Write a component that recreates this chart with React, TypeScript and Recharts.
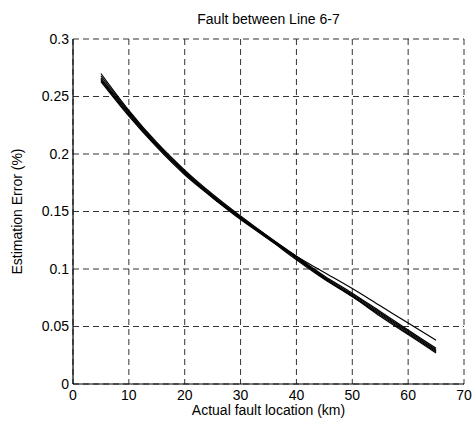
import React from "react";
import { LineChart, Line, XAxis, YAxis, CartesianGrid, Label } from "recharts";

// fault location (km)
const locations = [5, 10, 15, 20, 25, 30, 35, 40, 45, 50, 55, 60, 65];

// estimation error (%) for each run
const run1 = [0.27, 0.238, 0.21, 0.186, 0.165, 0.146, 0.128, 0.111, 0.097, 0.083, 0.068, 0.053, 0.038];
const run2 = [0.268, 0.237, 0.208, 0.185, 0.164, 0.145, 0.128, 0.111, 0.094, 0.079, 0.063, 0.047, 0.031];
const run3 = [0.266, 0.236, 0.209, 0.184, 0.163, 0.144, 0.127, 0.11, 0.093, 0.078, 0.062, 0.046, 0.03];
const run4 = [0.265, 0.235, 0.207, 0.183, 0.163, 0.145, 0.126, 0.11, 0.092, 0.077, 0.061, 0.045, 0.029];
const run5 = [0.264, 0.234, 0.207, 0.184, 0.162, 0.144, 0.127, 0.109, 0.092, 0.076, 0.06, 0.044, 0.028];
const run6 = [0.263, 0.233, 0.206, 0.182, 0.162, 0.143, 0.126, 0.108, 0.091, 0.076, 0.059, 0.043, 0.027];

const xTicks = [0, 10, 20, 30, 40, 50, 60, 70];
const yTicks = [0, 0.05, 0.1, 0.15, 0.2, 0.25, 0.3];

const runs = [run1, run2, run3, run4, run5, run6];

const data = locations.map((x, i) => {
  const row: Record<string, number> = { x };
  runs.forEach((r, k) => {
    row["r" + k] = r[i];
  });
  return row;
});

const FONT = "'Liberation Sans', Arial, Helvetica, sans-serif";
const tickStyle = { fontSize: 14, fill: "#000", fontFamily: FONT };

export default function App() {
  return (
    <div style={{ position: "absolute", left: 0, top: 0, width: 475, height: 430, background: "#fff", fontFamily: FONT }}>
      <div
        style={{
          position: "absolute",
          left: 73,
          width: 391,
          top: 11,
          textAlign: "center",
          fontSize: 14,
          color: "#000",
        }}
      >
        Fault between Line 6-7
      </div>
      <LineChart width={475} height={430} data={data} margin={{ top: 39, right: 11, bottom: 0, left: 0 }}>
        <CartesianGrid stroke="#333" strokeDasharray="6 4" strokeWidth={1} />
        <XAxis
          dataKey="x"
          type="number"
          domain={[0, 70]}
          ticks={xTicks}
          height={46}
          tickSize={0}
          tickMargin={6}
          tick={tickStyle}
          stroke="#000"
          axisLine={{ stroke: "#000", strokeWidth: 1.2 }}
        >
          <Label
            content={(props: any) => {
              const vb = props.viewBox;
              return (
                <text x={vb.x + vb.width / 2} y={vb.y + 31} textAnchor="middle" fontSize={14} fontFamily={FONT} fill="#000">
                  Actual fault location (km)
                </text>
              );
            }}
          />
        </XAxis>
        <XAxis xAxisId="top" orientation="top" type="number" domain={[0, 70]} height={0} tick={false} tickLine={false} axisLine={{ stroke: "#000", strokeWidth: 1.2 }} />
        <YAxis
          type="number"
          domain={[0, 0.3]}
          ticks={yTicks}
          width={73}
          tickSize={0}
          tickMargin={4}
          tick={tickStyle}
          axisLine={{ stroke: "#000", strokeWidth: 1.2 }}
        >
          <Label
            content={(props: any) => {
              const vb = props.viewBox;
              const cx = 17;
              const cy = vb.y + vb.height / 2;
              return (
                <text
                  x={cx}
                  y={cy}
                  transform={`rotate(-90 ${cx} ${cy})`}
                  textAnchor="middle"
                  dominantBaseline="central"
                  fontSize={14}
                  fontFamily={FONT}
                  fill="#000"
                >
                  Estimation Error (%)
                </text>
              );
            }}
          />
        </YAxis>
        <YAxis yAxisId="right" orientation="right" type="number" domain={[0, 0.3]} width={0} tick={false} tickLine={false} axisLine={{ stroke: "#000", strokeWidth: 1.2 }} />
        {runs.map((_, k) => (
          <Line
            key={k}
            dataKey={"r" + k}
            type="monotone"
            stroke="#000"
            strokeWidth={1.2}
            dot={false}
            isAnimationActive={false}
          />
        ))}
      </LineChart>
    </div>
  );
}
